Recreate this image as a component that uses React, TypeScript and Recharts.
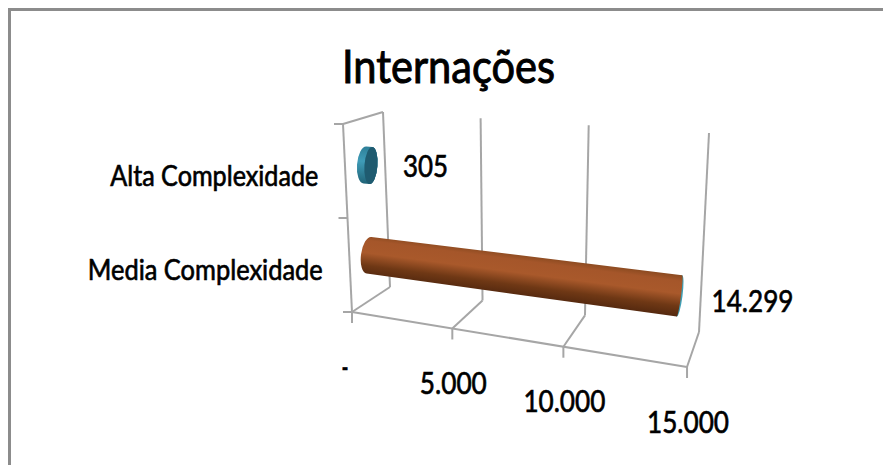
import { BarChart, Bar, XAxis, YAxis, Customized } from 'recharts';

const categories = ['Alta Complexidade', 'Media Complexidade'];
const values = [305, 14299];
const valueTicks = [0, 5000, 10000, 15000];
const chartTitle = 'Internações';

const data = categories.map((name, i) => ({ name, value: values[i] }));

const WIDTH = 883;
const HEIGHT = 465;
const LEFT = 352;
const RIGHT_PAD = 196;
const TOP = 124;
const BOTTOM_PAD = 153;
const PLOT_W = WIDTH - LEFT - RIGHT_PAD;
const PLOT_H = HEIGHT - TOP - BOTTOM_PAD;
const FONT = 'Lato, sans-serif';
const GRID = '#a6a6a6';

type Pt = [number, number];

const lerp = (a: Pt, b: Pt, t: number): Pt => [a[0] + (b[0] - a[0]) * t, a[1] + (b[1] - a[1]) * t];

// foreshortening along the value axis
const persp = (u: number) => (0.8548 * u) / (1 - 0.1453 * u);

// corners of the fake 3D box
const frontFloorL: Pt = [352, 312];
const frontFloorR: Pt = [687, 367];
const backFloorL: Pt = [390, 287];
const backFloorR: Pt = [699, 332];
const backTopL: Pt = [383, 112];
const backTopR: Pt = [709, 133];
const frontTopL: Pt = [343, 124];
const midFloorL: Pt = [371, 300.5];
const midFloorR: Pt = [693, 352];
const midTopL: Pt = [363, 120];
const midTopR: Pt = [710, 137];

const Line3D = ({ a, b }: { a: Pt; b: Pt }) => (
  <line x1={a[0]} y1={a[1]} x2={b[0]} y2={b[1]} stroke={GRID} strokeWidth={2} />
);

// squeezed label, the source text is narrow and heavy
function Label({ x, y, anchor, size, width, heavy = 0.65, children }: any) {
  return (
    <text
      x={x}
      y={y}
      textAnchor={anchor}
      fontFamily={FONT}
      fontSize={size}
      fill="#000"
      stroke="#000"
      strokeWidth={heavy}
      textLength={width}
      lengthAdjust="spacingAndGlyphs"
    >
      {children}
    </text>
  );
}

function Walls() {
  return (
    <g>
      <Line3D a={frontFloorL} b={frontFloorR} />
      <Line3D a={frontFloorR} b={backFloorR} />
      <Line3D a={backFloorR} b={backTopR} />
      <Line3D a={frontFloorL} b={backFloorL} />
      <Line3D a={backFloorL} b={backTopL} />
      <Line3D a={frontFloorL} b={frontTopL} />
      <Line3D a={frontTopL} b={backTopL} />
      {[0, 0.5, 1].map((h) => {
        const p = lerp(frontFloorL, frontTopL, h);
        return <Line3D key={h} a={p} b={[p[0] - 9, p[1]]} />;
      })}
      <Label x={342} y={83} anchor="start" size={46} width={213} heavy={1}>
        {chartTitle}
      </Label>
    </g>
  );
}

const tickText = (v: number) => (v === 0 ? '-' : String(v).replace(/\B(?=(\d{3})+$)/g, '.'));
const numberWidth = (s: string) => (s === '-' ? 7 : s.replace('.', '').length * 15 + (s.includes('.') ? 7 : 0));

function ValueTick({ x, payload }: any) {
  const u = (x - LEFT) / PLOT_W;
  const w = persp(u);
  const front = lerp(frontFloorL, frontFloorR, w);
  const back = lerp(backFloorL, backFloorR, w);
  const top = lerp(backTopL, backTopR, w);
  const label = tickText(payload.value);
  return (
    <g>
      {u > 0 && u < 1 && <Line3D a={front} b={back} />}
      {u > 0 && u < 1 && <Line3D a={back} b={top} />}
      <Line3D a={front} b={[front[0], front[1] + 11]} />
      <Label x={u === 0 ? front[0] - 7 : front[0] + 1} y={front[1] + 65.5} anchor="middle" size={30} width={numberWidth(label)}>
        {label}
      </Label>
    </g>
  );
}

const categoryWidths: Record<string, number> = {
  'Alta Complexidade': 208,
  'Media Complexidade': 235,
};

function CategoryTick({ y, payload }: any) {
  const h = 1 - (y - TOP) / PLOT_H;
  const p = lerp(frontFloorL, frontTopL, h);
  return (
    <Label x={p[0] - 27} y={p[1] + 14.5} anchor="end" size={28} width={categoryWidths[payload.value]}>
      {payload.value}
    </Label>
  );
}

const barStyles: Record<string, { grad: string; face: string; faceRx: number }> = {
  'Alta Complexidade': { grad: 'tealBody', face: '#1f5b70', faceRx: 6.5 },
  'Media Complexidade': { grad: 'rustBody', face: '#3f9fb5', faceRx: 3 },
};

function Cylinder({ x, y, width, height, payload }: any) {
  const h = 1 - (y + height / 2 - TOP) / PLOT_H;
  const u = width / PLOT_W;
  const startPt = lerp(midFloorL, midTopL, h);
  const endLine = lerp(midFloorR, midTopR, h);
  const end = lerp(startPt, endLine, persp(u));
  const dx = end[0] - startPt[0];
  const dy = end[1] - startPt[1];
  const len = Math.hypot(dx, dy);
  const angle = (Math.atan2(dy, dx) * 180) / Math.PI;
  const r0 = 18.5;
  const r1 = 18.5 + 2.5 * persp(u);
  const style = barStyles[payload.name];
  const bodyRx = style.faceRx === 3 ? 1.5 : 6.5;
  const body = `M0 ${-r0} L${len} ${-r1} A${bodyRx} ${r1} 0 0 1 ${len} ${r1} L0 ${r0} A8 ${r0} 0 0 1 0 ${-r0} Z`;
  const label = tickText(payload.value);
  return (
    <g>
      <g transform={`translate(${startPt[0]} ${startPt[1]}) rotate(${angle})`}>
        <ellipse cx={len} cy={0} rx={style.faceRx} ry={r1} fill={style.face} />
        <path d={body} fill={`url(#${style.grad})`} />
        {style.faceRx > 3 && <ellipse cx={len} cy={0} rx={style.faceRx} ry={r1} fill={style.face} />}
      </g>
      <Label x={end[0] + 32} y={end[1] + 11 + 5 * persp(u)} anchor="start" size={30} width={numberWidth(label)}>
        {label}
      </Label>
    </g>
  );
}

export default function App() {
  return (
    <div style={{ position: 'absolute', left: 0, top: 0, width: WIDTH, height: HEIGHT, background: '#fff', overflow: 'hidden' }}>
      <div style={{ position: 'absolute', left: 8, top: 8, right: 0, bottom: 0, borderTop: '3px solid #8c8c8c', borderLeft: '3px solid #8c8c8c' }} />
      {/* axes and walls sit in their own chart so the cylinders cover the gridlines */}
      <BarChart
        width={WIDTH}
        height={HEIGHT}
        data={data}
        layout="vertical"
        margin={{ left: LEFT - 100, right: RIGHT_PAD, top: TOP, bottom: BOTTOM_PAD - 30 }}
        style={{ position: 'absolute', left: 0, top: 0 }}
      >
        <Customized component={Walls} />
        <XAxis type="number" domain={[0, 15000]} ticks={valueTicks} height={30} axisLine={false} tickLine={false} tick={ValueTick} interval={0} />
        <YAxis type="category" dataKey="name" width={100} axisLine={false} tickLine={false} tick={CategoryTick} interval={0} />
        <Bar dataKey="value" isAnimationActive={false} fill="none" />
      </BarChart>
      <BarChart
        width={WIDTH}
        height={HEIGHT}
        data={data}
        layout="vertical"
        margin={{ left: LEFT, right: RIGHT_PAD, top: TOP, bottom: BOTTOM_PAD }}
        style={{ position: 'absolute', left: 0, top: 0 }}
      >
        <defs>
          <linearGradient id="rustBody" x1="0" y1="0" x2="0" y2="1">
            <stop offset="0" stopColor="#8a4a20" />
            <stop offset="0.15" stopColor="#a5562a" />
            <stop offset="0.45" stopColor="#a9592b" />
            <stop offset="0.75" stopColor="#6f3815" />
            <stop offset="1" stopColor="#55290f" />
          </linearGradient>
          <linearGradient id="tealBody" x1="0" y1="0" x2="0" y2="1">
            <stop offset="0" stopColor="#2e7f98" />
            <stop offset="0.4" stopColor="#3f9cb8" />
            <stop offset="1" stopColor="#206478" />
          </linearGradient>
        </defs>
        <XAxis type="number" domain={[0, 15000]} hide />
        <YAxis type="category" dataKey="name" hide />
        <Bar dataKey="value" isAnimationActive={false} shape={Cylinder} />
      </BarChart>
    </div>
  );
}
